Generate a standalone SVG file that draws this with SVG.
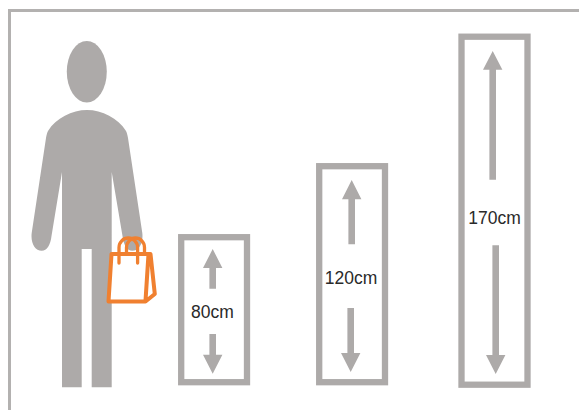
<svg xmlns="http://www.w3.org/2000/svg" width="579" height="410" viewBox="0 0 579 410">
<style>
.g{fill:#adaaa9}
.box{fill:#fff;stroke:#adaaa9;stroke-width:6.3}
.lbl{font-family:"Liberation Sans",sans-serif;font-size:17.500px;fill:#2a2a2a;text-anchor:middle}
.bag{fill:none;stroke:#f08030;stroke-width:4;stroke-linejoin:round;stroke-linecap:round}
.handle{fill:none;stroke:#f08030;stroke-width:3.300;stroke-linecap:round}
</style>
<rect width="579" height="410" fill="#fff"/>
<path d="M9.5 410V10.500H579" fill="none" stroke="#b3b1b0" stroke-width="3"/>
<g id="person">
<ellipse class="g" cx="86.800" cy="71.700" rx="20" ry="30.800"/>
<path class="g" d="M87 110C72 110 56 118 48 131C47 133 46.500 135 46 138L31.700 233C30.500 243 35 250.700 41.700 250.700C47 250.700 50.500 245 51.500 236L62 172V387.300H81.700V249H91.700V387.300H111.700V172L122.500 236C123.500 245 127 250.700 132.300 250.700C139 250.700 143.500 243 142.300 233L128 138C127.500 135 127 133 126 131C118 118 102 110 87 110Z"/>
</g>
<g id="bag">
<path class="handle" d="M126.500 253V247.500A9 9.500 0 0 1 144.500 247.500V253"/>
<path d="M112 253.500H151.500L155 293.500L146 301.500H108.500Z" fill="#fff"/>
<path class="handle" d="M119 263V247.500A9.300 9.500 0 0 1 137.600 247.500V263"/>
<path class="bag" d="M111.500 254H150.500L154.800 294L145.500 301.500H108.500ZM148.500 254L145.500 301"/>
</g>
<g id="box-80">
<rect class="box" x="181.200" y="237.200" width="65.800" height="145"/>
<text class="lbl" x="212.500" y="318">80cm</text>
</g>
<g id="box-120">
<rect class="box" x="319.200" y="166.200" width="65.800" height="216"/>
<text class="lbl" x="351" y="284">120cm</text>
</g>
<g id="box-170">
<rect class="box" x="461.500" y="36.700" width="66" height="348"/>
<text class="lbl" x="494.500" y="224">170cm</text>
</g>
<g id="connectors">
<path class="g" d="M212.700 249L222.400 268H216V288.700H209.400V268H203Z"/>
<path class="g" d="M212.700 373.700L222.400 354.700H216V334H209.400V354.700H203Z"/>
<path class="g" d="M351.700 180L361.400 199.300H355V244.300H348.400V199.300H342Z"/>
<path class="g" d="M350.700 372L360.400 353H354V308H347.400V353H341Z"/>
<path class="g" d="M492.700 51L502.400 69.700H496V179.700H489.400V69.700H483Z"/>
<path class="g" d="M495.700 374L505.400 355H499V245.300H492.400V355H486Z"/>
</g>
</svg>
